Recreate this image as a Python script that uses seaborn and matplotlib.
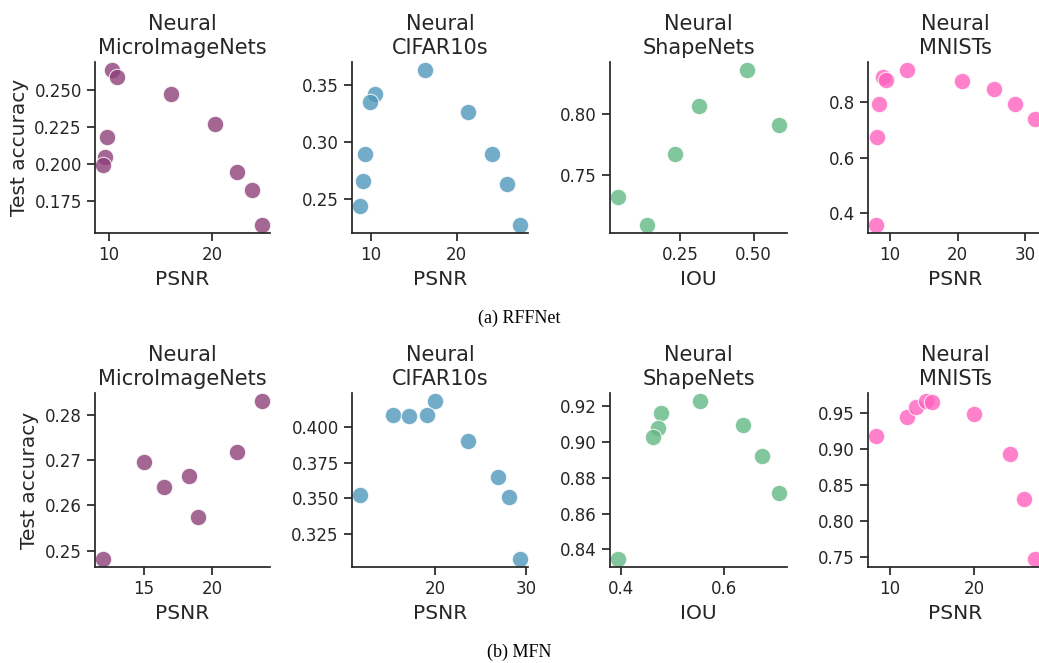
import numpy as np
import pandas as pd
import matplotlib
matplotlib.use("Agg")
import matplotlib.pyplot as plt
import seaborn as sns

# RFFNet (top row)
rff_mic_x = [10.3, 10.8, 16.0, 20.2, 9.8, 9.6, 9.4, 22.4, 23.8, 24.8]
rff_mic_y = [0.2633, 0.2584, 0.2469, 0.2268, 0.2184, 0.2046, 0.1995, 0.1948, 0.1824, 0.1589]

rff_cif_x = [16.3, 10.5, 9.9, 21.3, 9.3, 24.1, 9.1, 25.9, 8.75, 27.4]
rff_cif_y = [0.3637, 0.3424, 0.3349, 0.3264, 0.2894, 0.2896, 0.2657, 0.2634, 0.2439, 0.2266]

rff_shp_x = [0.478, 0.313, 0.587, 0.232, 0.037, 0.137]
rff_shp_y = [0.8362, 0.8068, 0.7905, 0.7671, 0.7312, 0.7084]

rff_mni_x = [12.5, 8.9, 9.4, 20.6, 25.4, 8.3, 28.6, 31.5, 8.0, 7.9]
rff_mni_y = [0.917, 0.890, 0.880, 0.877, 0.847, 0.793, 0.793, 0.740, 0.673, 0.356]

# MFN (bottom row)
mfn_mic_x = [23.7, 21.86, 15.0, 18.3, 16.5, 18.96, 11.98]
mfn_mic_y = [0.2831, 0.2718, 0.2696, 0.2664, 0.2641, 0.2575, 0.2481]

mfn_cif_x = [20.0, 15.4, 17.17, 19.15, 23.6, 26.84, 28.1, 11.8, 29.3]
mfn_cif_y = [0.4186, 0.4090, 0.4078, 0.4090, 0.3901, 0.3649, 0.3506, 0.3522, 0.3071]

mfn_shp_x = [0.553, 0.477, 0.472, 0.461, 0.636, 0.673, 0.706, 0.394]
mfn_shp_y = [0.9228, 0.9158, 0.9076, 0.9024, 0.9094, 0.8921, 0.8713, 0.8346]

mfn_mni_x = [8.33, 11.99, 13.1, 14.3, 14.96, 20.0, 24.27, 25.89, 27.2]
mfn_mni_y = [0.9171, 0.9439, 0.9583, 0.9661, 0.9647, 0.9486, 0.8926, 0.8307, 0.7473]

titles = ["Neural\nMicroImageNets", "Neural\nCIFAR10s", "Neural\nShapeNets", "Neural\nMNISTs"]
xlabels = ["PSNR", "PSNR", "IOU", "PSNR"]
colors = ["#8d4179", "#4f97bc", "#62b884", "#ff62bf"]
captions = ["(a) RFFNet", "(b) MFN"]

rows = [
    [(rff_mic_x, rff_mic_y), (rff_cif_x, rff_cif_y), (rff_shp_x, rff_shp_y), (rff_mni_x, rff_mni_y)],
    [(mfn_mic_x, mfn_mic_y), (mfn_cif_x, mfn_cif_y), (mfn_shp_x, mfn_shp_y), (mfn_mni_x, mfn_mni_y)],
]

sns.set_theme(style="ticks")
plt.rcParams["font.family"] = ["DejaVu Sans"]

fig = plt.figure(figsize=(10.39, 6.63), dpi=100)

W, H = 1039, 663
col_left = [95, 352, 610, 868]
col_right = [270, 528, 787, 1043]
row_top = [62, 393]
row_bottom = [233, 567]

for r, row in enumerate(rows):
    for c, (xs, ys) in enumerate(row):
        ax = fig.add_axes([
            col_left[c] / W,
            1 - row_bottom[r] / H,
            (col_right[c] - col_left[c]) / W,
            (row_bottom[r] - row_top[r]) / H,
        ])
        df = pd.DataFrame({"x": xs, "y": ys})
        sns.scatterplot(
            data=df, x="x", y="y", ax=ax,
            color=colors[c], s=140, alpha=0.8,
            edgecolor="white", linewidth=0.8
        )
        ax.set_title(titles[c], fontsize=15, color="#262626", pad=6)
        ax.set_xlabel(xlabels[c], fontsize=14.5, color="#262626")
        ax.set_ylabel("Test accuracy" if c == 0 else "", fontsize=14.5, color="#262626")
        ax.tick_params(labelsize=12, colors="#262626")
        for sp in ["left", "bottom"]:
            ax.spines[sp].set_linewidth(1.25)
            ax.spines[sp].set_color("#262626")
        sns.despine(ax=ax)

        # tick locations per panel
        if c == 2 and r == 0:
            ax.set_xticks([0.25, 0.50])
            ax.set_yticks([0.75, 0.80])
        if c == 3 and r == 0:
            ax.set_yticks([0.4, 0.6, 0.8])
        if c == 0 and r == 1:
            ax.set_xticks([15, 20])
        if c == 1 and r == 1:
            ax.set_xticks([20, 30])
        if c == 0 and r == 0:
            ax.set_xticks([10, 20])
        if c == 1 and r == 0:
            ax.set_xticks([10, 20])

fig.text(0.5, 1 - 318 / H, captions[0], ha="center", va="center",
         fontsize=13, family="Liberation Serif", color="black")
fig.text(0.5, 1 - 652 / H, captions[1], ha="center", va="center",
         fontsize=13, family="Liberation Serif", color="black")

fig.savefig("out.png", dpi=100)
